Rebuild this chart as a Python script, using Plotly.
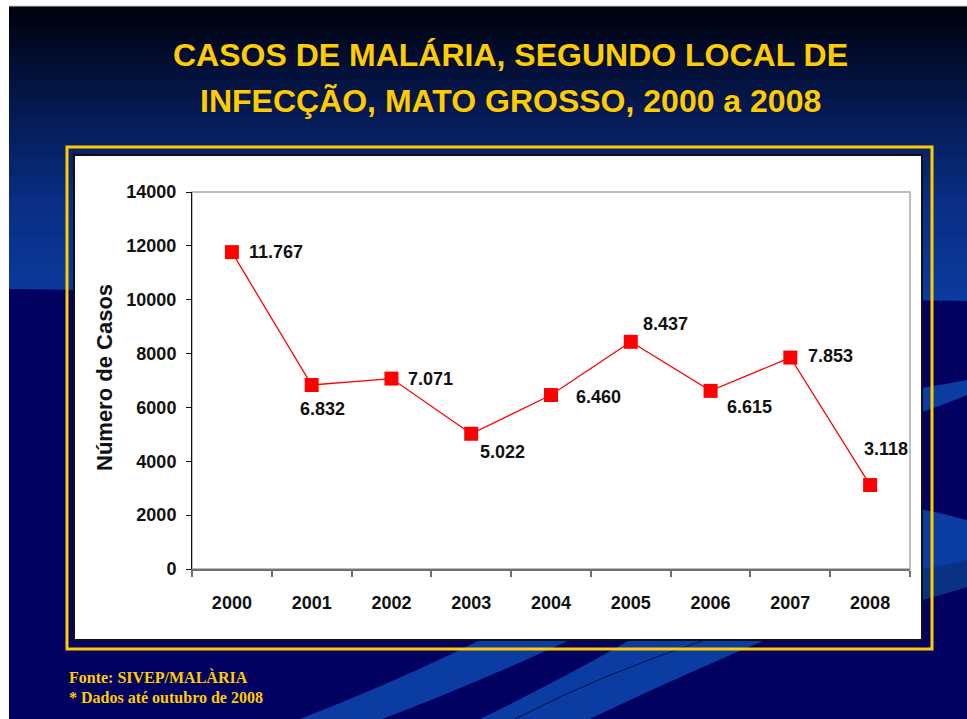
import numpy as np
import plotly.graph_objects as go

# ---------------- data ----------------
years = ["2000", "2001", "2002", "2003", "2004", "2005", "2006", "2007", "2008"]
cases = [11767, 6832, 7071, 5022, 6460, 8437, 6615, 7853, 3118]
y_ticks = [0, 2000, 4000, 6000, 8000, 10000, 12000, 14000]
title_lines = ["CASOS DE MALÁRIA, SEGUNDO LOCAL DE", "INFECÇÃO, MATO GROSSO, 2000 a 2008"]
footer_lines = ["Fonte: SIVEP/MALÀRIA", "* Dados até outubro de 2008"]
y_title = "Número de Casos"

# label placement (pixel offsets relative to each marker)
label_dx = [15, 11, 15, 7, 23, 10, 14, 16, -8]
label_dy = [0, -24, 0, -18, -2, 18, -16, 2, 36]
label_anchor = ["left", "center", "left", "left", "left", "left", "left", "left", "left"]

W, H = 967, 719
FONT = "Liberation Sans, Arial, sans-serif"
YEL = "#FFCC00"


def px(x):
    return x / W


def py(y):
    return 1 - y / H


def P(x, y):
    return f"{px(x):.5f},{py(y):.5f}"


def poly(pts):
    return "M " + " L ".join(P(x, y) for x, y in pts) + " Z"


NAVY = "#010161"
shapes = []
# slide background (lower navy)
shapes.append(dict(type="rect", xref="paper", yref="paper", x0=px(9), x1=1, y0=0, y1=py(6),
                   fillcolor=NAVY, line=dict(width=0), layer="below"))
# upper gradient
stops_y = [6, 20, 60, 120, 200, 300]
stops_c = [(0, 2, 12), (1, 4, 20), (3, 14, 50), (6, 28, 88), (10, 46, 132), (12, 60, 160)]
n = 60
edges = np.linspace(6, 301, n + 1)
for i in range(n):
    ym = (edges[i] + edges[i + 1]) / 2
    c = [int(np.interp(ym, stops_y, [s[k] for s in stops_c])) for k in range(3)]
    shapes.append(dict(type="rect", xref="paper", yref="paper", x0=px(9), x1=1,
                       y0=py(edges[i + 1] + 0.6), y1=py(edges[i]),
                       fillcolor=f"rgb({c[0]},{c[1]},{c[2]})", line=dict(width=0), layer="below"))
# slanted lower edge of the gradient
shapes.append(dict(type="path", xref="paper", yref="paper",
                   path=poly([(9, 289), (967, 301), (967, 302), (9, 302)]),
                   fillcolor=NAVY, line=dict(width=0), layer="below"))
# swooshes
band = "#0b3ca2"
band_dark = "#0a3182"
paths = [
    ("M " + P(880, 394) + " Q " + P(925, 388) + " " + P(967, 380) + " L " + P(967, 395)
     + " Q " + P(925, 413) + " " + P(880, 424) + " Z", band),
    ("M " + P(880, 503) + " Q " + P(925, 508) + " " + P(967, 520) + " L " + P(967, 587)
     + " Q " + P(925, 600) + " " + P(880, 610) + " Z", band),
    ("M " + P(880, 575) + " Q " + P(925, 570) + " " + P(967, 560) + " L " + P(967, 587)
     + " Q " + P(925, 600) + " " + P(880, 610) + " Z", band_dark),
    ("M " + P(300, 719) + " Q " + P(400, 680) + " " + P(480, 640) + " L " + P(570, 640)
     + " Q " + P(460, 690) + " " + P(382, 719) + " Z", band),
    ("M " + P(480, 719) + " Q " + P(560, 680) + " " + P(630, 640) + " L " + P(765, 640)
     + " Q " + P(660, 685) + " " + P(590, 719) + " Z", band),
]
for d, col in paths:
    shapes.append(dict(type="path", xref="paper", yref="paper", path=d, fillcolor=col,
                       line=dict(width=0), layer="below"))
shapes.append(dict(type="path", xref="paper", yref="paper",
                   path="M " + P(515, 719) + " Q " + P(600, 675) + " " + P(705, 640),
                   line=dict(color="#00104a", width=1), layer="below"))
shapes.append(dict(type="line", xref="paper", yref="paper", x0=px(9), x1=1, y0=py(6), y1=py(6),
                   line=dict(color="#c8c8c8", width=1), layer="below"))
# yellow frame
shapes.append(dict(type="rect", xref="paper", yref="paper", x0=px(67), x1=px(932), y0=py(649), y1=py(147),
                   fillcolor="rgba(0,0,0,0)", line=dict(color=YEL, width=3), layer="below"))
# white panel
shapes.append(dict(type="rect", xref="paper", yref="paper", x0=px(74), x1=px(922), y0=py(640), y1=py(155),
                   fillcolor="white", line=dict(color="#101010", width=2), layer="below"))

dom_x = [px(192), px(910)]
dom_y = [py(569), py(192)]
shapes.append(dict(type="rect", xref="paper", yref="paper", x0=dom_x[0], x1=dom_x[1], y0=dom_y[0], y1=dom_y[1],
                   fillcolor="rgba(0,0,0,0)", line=dict(color="#a8a8a8", width=1.5), layer="below"))

fig = go.Figure()
fig.add_trace(go.Scatter(
    x=years, y=cases, mode="lines+markers",
    line=dict(color="#FF0000", width=1.3),
    marker=dict(symbol="square", size=14, color="#FF0000"),
    hoverinfo="skip", showlegend=False,
))

annotations = []
for i, (v, dx, dy, anc) in enumerate(zip(cases, label_dx, label_dy, label_anchor)):
    annotations.append(dict(x=i, y=v, xref="x", yref="y", text=f"{v:,}".replace(",", "."),
                            showarrow=False, xanchor=anc, yanchor="middle", xshift=dx, yshift=dy,
                            font=dict(family=FONT, size=18, color="#111111", weight="bold")))
for i, t in enumerate(title_lines):
    annotations.append(dict(x=px(510), y=py(55 + 46 * i), xref="paper", yref="paper", text=t,
                            showarrow=False, xanchor="center", yanchor="middle",
                            font=dict(family=FONT, size=32, color=YEL, weight="bold")))
for i, t in enumerate(footer_lines):
    annotations.append(dict(x=px(67), y=py(677 + 20 * i), xref="paper", yref="paper", text=t,
                            showarrow=False, xanchor="left", yanchor="middle",
                            font=dict(family="Liberation Serif, Times New Roman, serif", size=16,
                                      color=YEL, weight="bold")))
annotations.append(dict(x=px(105), y=py(378), xref="paper", yref="paper", text=y_title, textangle=-90,
                        showarrow=False, xanchor="center", yanchor="middle",
                        font=dict(family=FONT, size=22, color="#111111", weight="bold")))

fig.update_layout(
    template="none",
    width=W, height=H,
    margin=dict(l=0, r=0, t=0, b=0, pad=0, autoexpand=False),
    paper_bgcolor="white",
    plot_bgcolor="rgba(0,0,0,0)",
    showlegend=False,
    shapes=shapes,
    annotations=annotations,
    xaxis=dict(domain=dom_x, type="category", range=[-0.5, 8.5], tickson="boundaries", automargin=False,
               showgrid=False, zeroline=False, showline=True, linecolor="#707070", linewidth=2,
               ticks="outside", ticklen=6, tickcolor="#707070", tickwidth=1.5,
               ticklabelstandoff=16,
               tickfont=dict(family=FONT, size=18, color="#111111", weight="bold")),
    yaxis=dict(domain=dom_y, range=[0, 14000], tickvals=y_ticks, ticktext=[str(t) for t in y_ticks],
               automargin=False,
               showgrid=False, zeroline=False, showline=True, linecolor="#111111", linewidth=1,
               ticks="outside", ticklen=5, tickcolor="#111111", ticklabelstandoff=6,
               tickfont=dict(family=FONT, size=18, color="#111111", weight="bold")),
)

fig.write_html("out.html", config={"displayModeBar": False},
               post_script="document.body.style.margin='0';document.body.style.overflow='hidden';")
